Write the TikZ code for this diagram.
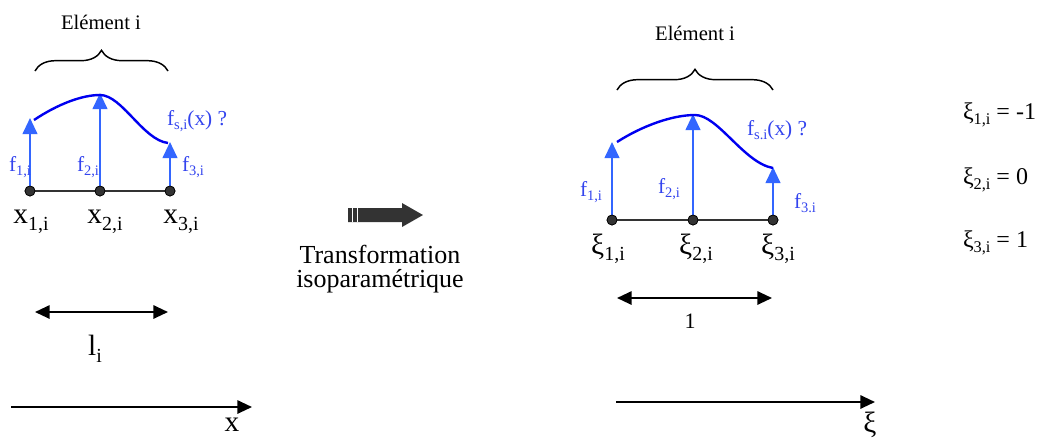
\documentclass[tikz,border=0pt]{standalone}
\usepackage{fontspec}
\setmainfont{Liberation Serif}
\usetikzlibrary{arrows.meta,decorations.pathreplacing}
\definecolor{fblue}{HTML}{3366FF}
\definecolor{tblue}{HTML}{3344EE}
\definecolor{cblue}{HTML}{0000F0}
\definecolor{dk}{HTML}{333333}
\newcommand\ssub[1]{\raisebox{-0.22em}{\scalebox{0.68}{#1}}}
\newcommand\fsz[1]{\fontsize{#1}{#1}\selectfont}
\begin{document}
\begin{tikzpicture}[x=0.75pt,y=-0.75pt,
  dot/.style={circle,fill=dk,draw=black,line width=0.5pt,inner sep=0pt,minimum size=7.5pt},
  baseln/.style={draw=dk,line width=1.5pt},
  farrow/.style={draw=fblue,line width=1.5pt,-{Triangle[length=12pt,width=11pt]}},
  curv/.style={draw=cblue,line width=1.8pt},
  brace/.style={decorate,decoration={brace,amplitude=15.5pt},line width=1.1pt},
  dbl/.style={line width=1.5pt,{Triangle[length=11pt,width=10pt]}-{Triangle[length=11pt,width=10pt]}},
  axis/.style={line width=1.5pt,-{Triangle[length=11pt,width=10pt]}},
  flab/.style={text=tblue,font=\fsz{16}},
  xlab/.style={font=\fsz{22}},
  ttl/.style={font=\fsz{15.5}},
  eqn/.style={font=\fsz{18},anchor=west},
  inner sep=0pt, outer sep=0pt]
\useasboundingbox (0,0) rectangle (1042,437);

% ---------------- left element ----------------
\node[ttl] (elL) at (101,22) {Elément i};
\coordinate (brLa) at (35,71);
\coordinate (brLb) at (168,71);
\draw[brace] (brLa) -- (brLb);

\node[dot] (n1) at (30,191) {};
\node[dot] (n2) at (100,191) {};
\node[dot] (n3) at (170,191) {};
\draw[baseln] (n1) -- (n2) -- (n3);

\coordinate (t1) at (30,118);
\coordinate (t2) at (100,93);
\coordinate (t3) at (170,142);
\draw[farrow] (n1.center) -- (t1);
\draw[farrow] (n2.center) -- (t2);
\draw[farrow] (n3.center) -- (t3);
\node[dot] at (n1) {};
\node[dot] at (n2) {};
\node[dot] at (n3) {};

\draw[curv] (34,120) .. controls (58,104) and (82,95) .. (100,95)
  .. controls (122,95) and (143,140) .. (168,143);

\node[flab,anchor=west] (fl1) at (9,167) {f\ssub{1,i}};
\node[flab,anchor=west] (fl2) at (77,167) {f\ssub{2,i}};
\node[flab,anchor=west] (fl3) at (182,167) {f\ssub{3,i}};
\node[flab,anchor=west] (fsL) at (167,121) {f\ssub{s,i}(x) ?};

\node[xlab] (x1) at (31,222) {x\ssub{1,i}};
\node[xlab] (x2) at (105,222) {x\ssub{2,i}};
\node[xlab] (x3) at (181,222) {x\ssub{3,i}};

\coordinate (dLa) at (35,312);
\coordinate (dLb) at (168,312);
\draw[dbl] (dLa) -- (dLb);
\node[xlab] (li) at (95,349) {l\ssub{i}};

\coordinate (axLa) at (11,407);
\coordinate (axLb) at (252,407);
\draw[axis] (axLa) -- (axLb);
\node[xlab,anchor=base] (axx) at (232,431) {x};

% ---------------- middle arrow ----------------
\fill[dk] (348,208) -- (402,208) -- (402,203) -- (423,215) -- (402,227) -- (402,222) -- (348,222) -- cycle;
\draw[white,line width=0.45pt] (352,208) -- (352,222);
\draw[white,line width=0.45pt] (357,208) -- (357,222);
\node[font=\fsz{19.5}] (tr1) at (380,254) {Transformation};
\node[font=\fsz{19.5}] (tr2) at (380,281) {isoparamétrique};

% ---------------- right element ----------------
\node[ttl] (elR) at (695,33) {Elément i};
\coordinate (brRa) at (617,90);
\coordinate (brRb) at (773,90);
\draw[brace] (brRa) -- (brRb);

\node[dot] (m1) at (612,220) {};
\node[dot] (m2) at (693,220) {};
\node[dot] (m3) at (773,220) {};
\draw[baseln] (m1) -- (m2) -- (m3);

\coordinate (s1) at (612,142);
\coordinate (s2) at (693,114);
\coordinate (s3) at (773,167);
\draw[farrow] (m1.center) -- (s1);
\draw[farrow] (m2.center) -- (s2);
\draw[farrow] (m3.center) -- (s3);
\node[dot] at (m1) {};
\node[dot] at (m2) {};
\node[dot] at (m3) {};

\draw[curv] (617,142) .. controls (642,126) and (672,115) .. (695,115)
  .. controls (718,115) and (744,163) .. (773,168);

\node[flab,anchor=west] (fr1) at (580,192) {f\ssub{1,i}};
\node[flab,anchor=west] (fr2) at (658,189) {f\ssub{2,i}};
\node[flab,anchor=west] (fr3) at (794,203) {f\ssub{3.i}};
\node[flab,anchor=west] (fsR) at (747,130) {f\ssub{s.i}(x) ?};

\node[xlab] (xi1) at (608,249) {ξ\ssub{1,i}};
\node[xlab] (xi2) at (696,249) {ξ\ssub{2,i}};
\node[xlab] (xi3) at (778,249) {ξ\ssub{3,i}};

\coordinate (dRa) at (617,298);
\coordinate (dRb) at (772,298);
\draw[dbl] (dRa) -- (dRb);
\node[font=\fsz{16.5}] (one) at (690,321) {1};

\coordinate (axRa) at (616,402);
\coordinate (axRb) at (875,402);
\draw[axis] (axRa) -- (axRb);
\node[xlab,anchor=base] (axxi) at (870,432) {ξ};

% ---------------- right column ----------------
\node[eqn] (e1) at (963,115) {ξ\ssub{1,i} = -1};
\node[eqn] (e2) at (963,180) {ξ\ssub{2,i} = 0};
\node[eqn] (e3) at (963,243) {ξ\ssub{3,i} = 1};
\end{tikzpicture}
\end{document}
